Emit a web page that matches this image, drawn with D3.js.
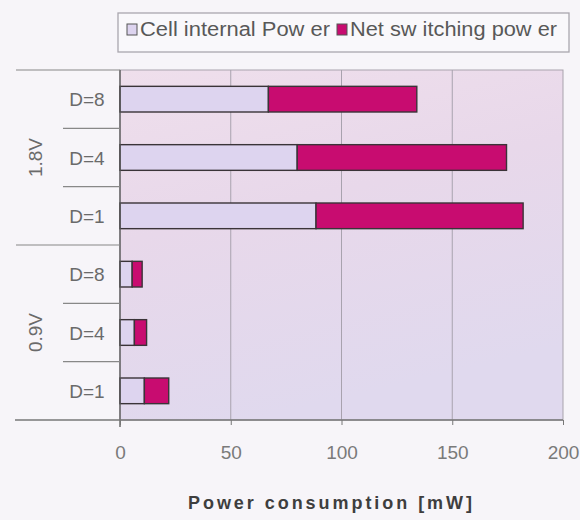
<!DOCTYPE html>
<html><head><meta charset="utf-8">
<script src="https://cdn.jsdelivr.net/npm/d3@7"></script>
<style>body{margin:0;background:#f7f5f9;}svg{display:block;}</style>
</head><body>
<svg id="c" width="580" height="520"></svg>
<script>
const groups = ["1.8V", "0.9V"];
const rowKeys = ["1.8V|D=8","1.8V|D=4","1.8V|D=1","0.9V|D=8","0.9V|D=4","0.9V|D=1"];
const cellInternal = [67, 80, 88.5, 5.5, 6.5, 11];
const netSwitching = [67, 94.5, 93.5, 4.5, 5.5, 11];
const seriesLabels = ["Cell internal Pow er", "Net sw itching pow er"];
const xTicks = [0, 50, 100, 150, 200];
const colors = ["#ddd4ef", "#c80c70"];

const FONT = "Liberation Sans, Arial, sans-serif";
const svg = d3.select("#c");
const L = 120, R = 563, T = 70, B = 420;
const x = d3.scaleLinear().domain([0, 200]).range([L, R]);
const y = d3.scaleBand().domain(rowKeys).range([T, B]).paddingInner(0.56).paddingOuter(0.28);
const yRow = d3.scaleBand().domain(rowKeys).range([T, B]);

const defs = svg.append("defs");
const g = defs.append("linearGradient").attr("id","bg").attr("x1","0").attr("y1","0").attr("x2","0.3").attr("y2","1");
g.append("stop").attr("offset","0").attr("stop-color","#efdfec");
g.append("stop").attr("offset","0.45").attr("stop-color","#e8d8ea");
g.append("stop").attr("offset","1").attr("stop-color","#e0d9ee");
svg.append("rect").attr("x", L).attr("y", T).attr("width", R - L).attr("height", B - T)
  .attr("fill", "url(#bg)").attr("stroke", "#a9a3ad").attr("stroke-width", 1);

// gridlines
svg.append("g").selectAll("line").data(xTicks.slice(1, -1)).join("line")
  .attr("x1", d => x(d)).attr("x2", d => x(d)).attr("y1", T).attr("y2", B)
  .attr("stroke", "#a8a2ae").attr("stroke-width", 1);

// stacked bars
const data = rowKeys.map((k, i) => ({key: k, a: cellInternal[i], b: netSwitching[i]}));
const stack = d3.stack().keys(["a", "b"])(data);
svg.append("g").selectAll("g").data(stack).join("g")
  .attr("fill", (d, i) => colors[i])
  .selectAll("rect").data(d => d).join("rect")
  .attr("x", d => x(d[0])).attr("width", d => x(d[1]) - x(d[0]))
  .attr("y", d => y(d.data.key)).attr("height", y.bandwidth())
  .attr("stroke", "#3a3438").attr("stroke-width", 1.4);

// axes lines
svg.append("line").attr("x1", L).attr("x2", L).attr("y1", T).attr("y2", B + 7).attr("stroke", "#555").attr("stroke-width", 1.3);
svg.append("line").attr("x1", 15).attr("x2", R).attr("y1", B).attr("y2", B).attr("stroke", "#777").attr("stroke-width", 1.5);
svg.append("line").attr("x1", 16).attr("x2", L).attr("y1", T).attr("y2", T).attr("stroke", "#888").attr("stroke-width", 1.2);

// row separators
rowKeys.forEach((k, i) => {
  if (i === 0) return;
  const yy = yRow(k);
  const isGroup = i === 3;
  svg.append("line").attr("x1", isGroup ? 16 : 63).attr("x2", L).attr("y1", yy).attr("y2", yy)
    .attr("stroke", "#888").attr("stroke-width", 1.2);
});

// row labels
svg.append("g").selectAll("text").data(rowKeys).join("text")
  .attr("x", 87).attr("y", d => yRow(d) + yRow.bandwidth() / 2 + 7)
  .attr("text-anchor", "middle").attr("font-family", FONT)
  .attr("font-size", 19).attr("fill", "#6a6a6a")
  .text(d => d.split("|")[1]);

// group labels
groups.forEach((gname) => {
  const keys = rowKeys.filter(k => k.startsWith(gname + "|"));
  const y0 = yRow(keys[0]), y1 = yRow(keys[keys.length - 1]) + yRow.bandwidth();
  const cy = (y0 + y1) / 2;
  svg.append("text").attr("transform", `translate(42,${cy}) rotate(-90)`)
    .attr("text-anchor", "middle").attr("font-family", FONT)
    .attr("font-size", 19).attr("fill", "#6a6a6a").text(gname);
});

// x axis
const xAxis = d3.axisBottom(x).tickValues(xTicks).tickSize(5).tickPadding(21);
const ax = svg.append("g").attr("transform", `translate(0,${B})`).call(xAxis);
ax.select(".domain").remove();
ax.selectAll(".tick line").attr("stroke", "#777");
ax.selectAll(".tick text").attr("font-family", FONT)
  .attr("font-size", 19).attr("fill", "#7a7a7a");

svg.append("text").attr("x", 330).attr("y", 509).attr("text-anchor", "middle")
  .attr("font-family", FONT).attr("font-weight", "bold")
  .attr("font-size", 18).attr("fill", "#3e3e3e")
  .attr("textLength", 284).attr("lengthAdjust", "spacing")
  .text("Power consumption [mW]");

// legend
const lg = svg.append("g");
lg.append("rect").attr("x", 118).attr("y", 13).attr("width", 451).attr("height", 39)
  .attr("fill", "#f9f8fb").attr("stroke", "#aaa6ae").attr("stroke-width", 1.3);
const lx = [127, 337];
const lw = [190, 207];
seriesLabels.forEach((s, i) => {
  lg.append("rect").attr("x", lx[i]).attr("y", 24).attr("width", 10).attr("height", 11)
    .attr("fill", colors[i]).attr("stroke", "#555").attr("stroke-width", 1);
  lg.append("text").attr("x", lx[i] + 13).attr("y", 36)
    .attr("font-family", FONT).attr("font-size", 20)
    .attr("fill", "#585858").attr("textLength", lw[i]).attr("lengthAdjust", "spacingAndGlyphs")
    .text(s);
});
</script>
</body></html>
